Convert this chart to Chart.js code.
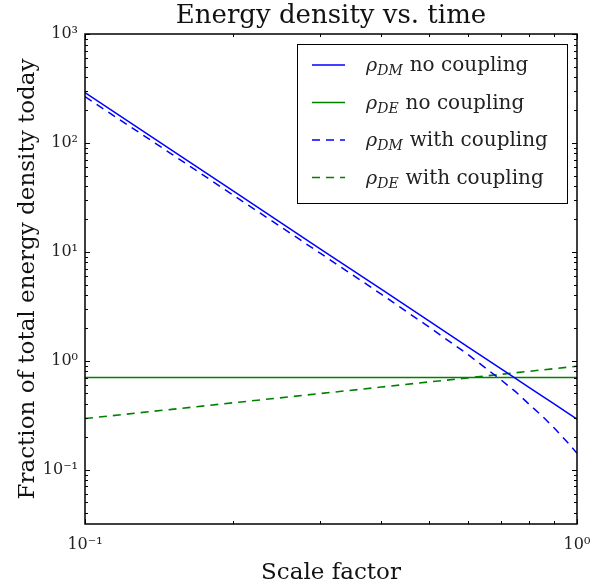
<!DOCTYPE html>
<html>
<head>
<meta charset="utf-8">
<script src="https://cdn.jsdelivr.net/npm/chart.js@4.4.0/dist/chart.umd.min.js"></script>
<style>
  html, body { margin: 0; padding: 0; background: #fff; }
</style>
</head>
<body>
<canvas id="chart_area" width="594" height="588"></canvas>
<script>
// scale factor a, shared by every curve
const scaleFactor = [0.1, 0.15, 0.2, 0.3, 0.4, 0.5, 0.6, 0.7, 0.75, 0.8, 0.85, 0.9, 0.95, 1.0];
const dmNoCoupling = [290, 85.9, 36.3, 10.7, 4.53, 2.32, 1.34, 0.845, 0.687, 0.566, 0.472, 0.398, 0.338, 0.29];
const deNoCoupling = [0.7, 0.7, 0.7, 0.7, 0.7, 0.7, 0.7, 0.7, 0.7, 0.7, 0.7, 0.7, 0.7, 0.7];
const dmWithCoupling = [266, 78.9, 33.2, 9.76, 4.08, 2.04, 1.14, 0.668, 0.519, 0.396, 0.309, 0.239, 0.184, 0.141];
const deWithCoupling = [0.294, 0.357, 0.41, 0.498, 0.572, 0.637, 0.694, 0.749, 0.774, 0.798, 0.822, 0.845, 0.868, 0.887];

const legendSub = ['DM', 'DE', 'DM', 'DE'];
const legendText = ['no coupling', 'no coupling', 'with coupling', 'with coupling'];

const xMajorTicks = [0.1, 1];
const yMajorTicks = [0.1, 1, 10, 100, 1000];
const xMin = 0.1, xMax = 1;
const yMin = 0.0316, yMax = 1000;

const serif = '"DejaVu Serif", serif';
const sup = {'-': '\u207B', '0': '\u2070', '1': '\u00B9', '2': '\u00B2', '3': '\u00B3'};
const powLabel = (v) => '10' + String(Math.round(Math.log10(v))).split('').map(c => sup[c]).join('');

const pts = (ys) => scaleFactor.map((a, i) => ({x: a, y: ys[i]}));

// minor + major tick values for a log axis
function logTicks(min, max) {
  const out = [];
  for (let e = Math.floor(Math.log10(min)); e <= Math.ceil(Math.log10(max)); e++) {
    for (let m = 1; m < 10; m++) {
      const v = m * Math.pow(10, e);
      if (v >= min * 0.999 && v <= max * 1.001) out.push({v: v, major: m === 1});
    }
  }
  return out;
}

const frameAndTicks = {
  id: 'frameAndTicks',
  afterDraw(chart) {
    const {ctx, chartArea: a, scales} = chart;
    ctx.save();
    ctx.strokeStyle = '#000';
    ctx.lineWidth = 1;
    ctx.beginPath();
    logTicks(xMin, xMax).forEach(t => {
      const px = Math.round(scales.x.getPixelForValue(t.v)) + 0.5;
      const len = t.major ? 5 : 3;
      ctx.moveTo(px, a.bottom); ctx.lineTo(px, a.bottom - len);
      ctx.moveTo(px, a.top); ctx.lineTo(px, a.top + len);
    });
    logTicks(yMin, yMax).forEach(t => {
      const py = Math.round(scales.y.getPixelForValue(t.v)) + 0.5;
      const len = t.major ? 5 : 3;
      ctx.moveTo(a.left, py); ctx.lineTo(a.left + len, py);
      ctx.moveTo(a.right, py); ctx.lineTo(a.right - len, py);
    });
    ctx.stroke();
    ctx.lineWidth = 1.5;
    ctx.strokeRect(a.left, a.top, a.right - a.left, a.bottom - a.top);
    ctx.restore();
  }
};

const mathLegend = {
  id: 'mathLegend',
  afterDraw(chart) {
    const {ctx, chartArea: a} = chart;
    const ds = chart.data.datasets;
    const boxW = 270, boxH = 159;
    const bx = a.right - 10 - boxW, by = a.top + 10;
    ctx.save();
    ctx.fillStyle = '#fff';
    ctx.fillRect(bx, by, boxW, boxH);
    ctx.strokeStyle = '#000';
    ctx.lineWidth = 1;
    ctx.strokeRect(bx + 0.5, by + 0.5, boxW, boxH);
    ds.forEach((d, i) => {
      const cy = by + 21 + i * 37.5;
      ctx.strokeStyle = d.borderColor;
      ctx.lineWidth = d.borderWidth;
      ctx.setLineDash(d.borderDash || []);
      ctx.beginPath();
      ctx.moveTo(bx + 15, cy); ctx.lineTo(bx + 48, cy);
      ctx.stroke();
      ctx.setLineDash([]);
      ctx.fillStyle = '#222';
      ctx.textBaseline = 'alphabetic';
      let tx = bx + 69;
      const base = cy + 6;
      ctx.font = 'italic 19px ' + serif;
      ctx.fillText('\u03C1', tx, base);
      tx += ctx.measureText('\u03C1').width;
      ctx.font = 'italic 14px ' + serif;
      ctx.fillText(legendSub[i], tx, base + 4);
      tx += ctx.measureText(legendSub[i]).width + 7;
      ctx.font = '20px ' + serif;
      ctx.fillText(legendText[i], tx, base);
    });
    ctx.restore();
  }
};

const ctx = document.getElementById('chart_area').getContext('2d');
const chart = new Chart(ctx, {
  type: 'line',
  data: {
    datasets: [{
      label: '\u03C1DM no coupling',
      data: pts(dmNoCoupling),
      borderColor: '#0000ff',
      borderWidth: 1.5,
    }, {
      label: '\u03C1DE no coupling',
      data: pts(deNoCoupling),
      borderColor: '#008000',
      borderWidth: 1.5,
    }, {
      label: '\u03C1DM with coupling',
      data: pts(dmWithCoupling),
      borderColor: '#0000ff',
      borderWidth: 1.5,
      borderDash: [8, 6],
    }, {
      label: '\u03C1DE with coupling',
      data: pts(deWithCoupling),
      borderColor: '#008000',
      borderWidth: 1.6,
      borderDash: [8, 6],
    }]
  },
  options: {
    responsive: false,
    animation: false,
    devicePixelRatio: 1,
    layout: { padding: { left: 0, right: 17, top: 0, bottom: 0 } },
    elements: {
      point: { radius: 0 },
      line: { tension: 0, fill: false }
    },
    plugins: {
      legend: { display: false },
      tooltip: { enabled: false },
      title: {
        display: true,
        text: 'Energy density vs. time',
        fullSize: false,
        color: '#111',
        font: { family: serif, size: 26, weight: 'normal' },
        padding: { top: 1, bottom: 1.8 }
      }
    },
    scales: {
      x: {
        type: 'logarithmic',
        min: xMin,
        max: xMax,
        grid: { display: false, drawTicks: false },
        border: { display: false },
        afterBuildTicks: (s) => { s.ticks = xMajorTicks.map(v => ({value: v, major: true})); },
        afterFit: (s) => { s.height = 64; s.paddingLeft = 0; s.paddingRight = 0; },
        ticks: {
          autoSkip: false,
          maxRotation: 0,
          padding: 11,
          color: '#222',
          font: { family: serif, size: 16 },
          callback: (v) => powLabel(v)
        },
        title: {
          display: true,
          text: 'Scale factor',
          color: '#111',
          font: { family: serif, size: 23 },
          padding: { top: 0, bottom: 1 }
        }
      },
      y: {
        type: 'logarithmic',
        min: yMin,
        max: yMax,
        grid: { display: false, drawTicks: false },
        border: { display: false },
        afterBuildTicks: (s) => { s.ticks = yMajorTicks.map(v => ({value: v, major: true})); },
        afterFit: (s) => { s.width = 85; s.paddingTop = 0; s.paddingBottom = 0; },
        ticks: {
          autoSkip: false,
          padding: 7,
          color: '#222',
          font: { family: serif, size: 16 },
          callback: (v) => powLabel(v)
        },
        title: {
          display: true,
          text: 'Fraction of total energy density today',
          color: '#111',
          font: { family: serif, size: 23 },
          padding: { top: 14, bottom: 0 }
        }
      }
    }
  },
  plugins: [frameAndTicks, mathLegend]
});
</script>
</body>
</html>
